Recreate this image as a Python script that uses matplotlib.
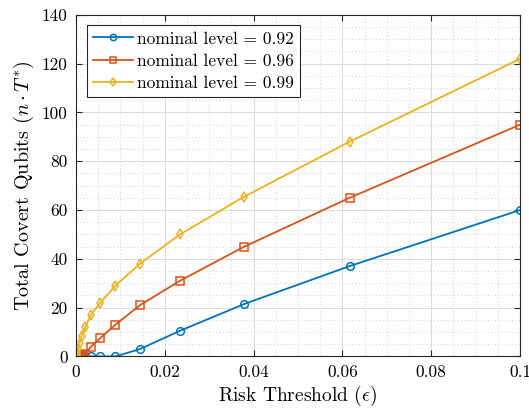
import matplotlib.pyplot as plt
from matplotlib.ticker import MultipleLocator, FuncFormatter

# risk threshold values (log-spaced from 1e-5 to 0.1)
eps = [1.0e-5, 1.62e-5, 2.64e-5, 4.28e-5, 6.95e-5, 1.13e-4, 1.83e-4, 2.98e-4,
       4.83e-4, 7.85e-4, 1.27e-3, 2.07e-3, 3.36e-3, 5.46e-3, 8.86e-3, 0.0144,
       0.0234, 0.0379, 0.0616, 0.1]

# total covert qubits n*T* for each nominal level
q_092 = [0, 0, 0, 0, 0, 0, 0, 0, 0, 0, 0, 0, 0, 0, 0, 3, 10.5, 21.5, 37, 60]
q_096 = [0, 0, 0, 0, 0, 0, 0, 0, 0, 0, 0.5, 1, 4, 7.5, 13, 21, 31, 45, 65, 95]
q_099 = [0, 0, 0, 0, 0, 0, 0.5, 1.5, 3, 5.5, 8.5, 12, 17, 22, 29, 38, 50, 65.5, 88, 122]

levels = ['0.92', '0.96', '0.99']

plt.rcParams['font.family'] = 'serif'
plt.rcParams['font.serif'] = ['cmr10']
plt.rcParams['mathtext.fontset'] = 'cm'
plt.rcParams['axes.formatter.use_mathtext'] = True

fig = plt.figure(figsize=(5.29, 4.13), dpi=100)
ax = fig.add_axes([0.1437, 0.137, 0.8393, 0.827])

colors = ['#0072BD', '#D95319', '#EDB120']
markers = ['o', 's', 'd']
for q, lv, c, m in zip([q_092, q_096, q_099], levels, colors, markers):
    ax.plot(eps, q, color=c, marker=m, markerfacecolor='none', markeredgecolor=c,
            markersize=5.5, markeredgewidth=1.1, linewidth=1.3,
            label='nominal level = ' + lv)

ax.set_xlim(0, 0.1)
ax.set_ylim(0, 140)
ax.xaxis.set_major_locator(MultipleLocator(0.02))
ax.xaxis.set_minor_locator(MultipleLocator(0.005))
ax.yaxis.set_major_locator(MultipleLocator(20))
ax.yaxis.set_minor_locator(MultipleLocator(5))
ax.xaxis.set_major_formatter(FuncFormatter(lambda v, p: ('%g' % round(v, 4))))
ax.yaxis.set_major_formatter(FuncFormatter(lambda v, p: '%d' % v))

ax.grid(which='major', color='#dcdcdc', linestyle='-', linewidth=0.8)
ax.grid(which='minor', color='#d2d2d2', linestyle=(0, (1, 2.5)), linewidth=0.7)
ax.set_axisbelow(True)
ax.tick_params(which='major', direction='in', top=True, right=True, length=4,
               labelsize=12.5, color='#262626', pad=6)
ax.tick_params(which='minor', length=0)
for s in ax.spines.values():
    s.set_color('#262626')
    s.set_linewidth(0.8)

ax.set_xlabel(r'Risk Threshold ($\epsilon$)', fontsize=14, labelpad=3)
ax.set_ylabel(r'Total Covert Qubits ($n \cdot T^{*}$)', fontsize=14.5, labelpad=4)

leg = ax.legend(loc='upper left', bbox_to_anchor=(0.025, 0.97), fontsize=12.5,
                fancybox=False, framealpha=1, edgecolor='#262626',
                handlelength=2.3, borderpad=0.35, labelspacing=0.4,
                handletextpad=0.25, borderaxespad=0)
leg.get_frame().set_linewidth(0.8)
for h in leg.legend_handles:
    h.set_markersize(4.5)

fig.savefig('out.png', dpi=100)
